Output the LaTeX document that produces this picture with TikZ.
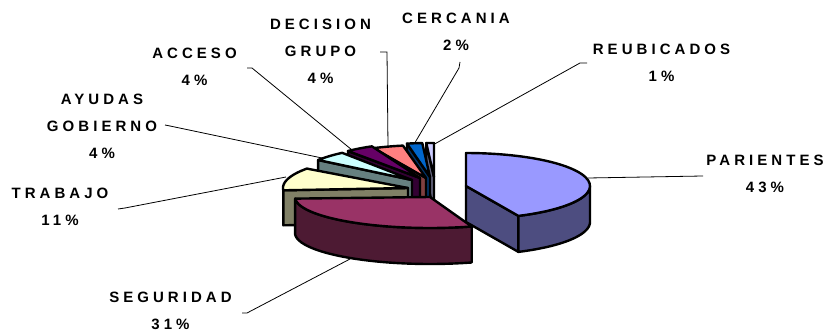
\documentclass[tikz,border=0pt]{standalone}
\usepackage{fontspec}
\setmainfont{Liberation Sans}
\newfontfamily\lblfont{Liberation Sans}[LetterSpace=27]
\definecolor{parT}{HTML}{9999FF}\definecolor{parS}{HTML}{4D4D80}
\definecolor{segT}{HTML}{993366}\definecolor{segS}{HTML}{4D1A33}
\definecolor{traT}{HTML}{FFFFCC}\definecolor{traS}{HTML}{808066}
\definecolor{ayuT}{HTML}{CCFFFF}\definecolor{ayuS}{HTML}{668080}
\definecolor{accT}{HTML}{660066}\definecolor{accS}{HTML}{330033}
\definecolor{decT}{HTML}{FF8080}\definecolor{decS}{HTML}{804040}
\definecolor{cerT}{HTML}{0066CC}\definecolor{cerS}{HTML}{003366}
\definecolor{reuT}{HTML}{CCCCFF}\definecolor{reuS}{HTML}{666680}
\tikzset{
  piece/.style={draw=black, line width=2.4pt, line join=round},
  leader/.style={draw=black, line width=0.8pt},
  lbl/.style={font=\lblfont\bfseries\fontsize{15}{27}\selectfont, align=center, inner sep=0pt, text=black}
}
% cx cy A B t1 t2 colour
\newcommand{\topface}[7]{\filldraw[piece, fill=#7] (#1,#2) -- plot[domain=#5:#6, samples=30, smooth] ({#1+#3*cos(\x)},{#2-#4*sin(\x)}) -- cycle;}
% cx cy A B t h colour
\newcommand{\radface}[7]{\filldraw[piece, fill=#7] (#1,#2) -- ({#1+#3*cos(#5)},{#2-#4*sin(#5)}) -- ++(0,#6) -- ({#1},{#2+#6}) -- cycle;}
% cx cy A B t1 t2 h colour
\newcommand{\rimface}[8]{\filldraw[piece, fill=#8] plot[domain=#5:#6, samples=30, smooth] ({#1+#3*cos(\x)},{#2-#4*sin(\x)}) -- plot[domain=#6:#5, samples=30, smooth] ({#1+#3*cos(\x)},{#2+#7-#4*sin(\x)}) -- cycle;}
\begin{document}
\begin{tikzpicture}[x=1pt,y=-1pt]
\useasboundingbox (0,0) rectangle (825,331);
% labels
\node[lbl] (decL) at (320.5,51) {DECISION\\GRUPO\\4\%};
\node[lbl] (cerL) at (456,32) {CERCANIA\\2\%};
\node[lbl] (reuL) at (661.5,62.5) {REUBICADOS\\1\%};
\node[lbl] (parL) at (765,174.3) {PARIENTES\\43\%};
\node[lbl] (accL) at (194.5,66.5) {ACCESO\\4\%};
\node[lbl] (ayuL) at (102,126) {AYUDAS\\GOBIERNO\\4\%};
\node[lbl] (traL) at (60,206.5) {TRABAJO\\11\%};
\node[lbl] (segL) at (170.5,310.5) {SEGURIDAD\\31\%};
% leader points
\coordinate (decA) at (380,52); \coordinate (decB) at (387,52); \coordinate (decC) at (388,146);
\coordinate (cerA) at (460,62); \coordinate (cerB) at (459,68); \coordinate (cerC) at (413,146);
\coordinate (reuA) at (587,63); \coordinate (reuB) at (580,63); \coordinate (reuC) at (431,146);
\coordinate (parA) at (703,176); \coordinate (parC) at (588,178);
\coordinate (accA) at (247,68); \coordinate (accB) at (252,68); \coordinate (accC) at (352,150);
\coordinate (ayuA) at (165,125); \coordinate (ayuB) at (170,126); \coordinate (ayuC) at (322,158);
\coordinate (traA) at (118,209); \coordinate (traB) at (125,208); \coordinate (traC) at (286,177);
\coordinate (segA) at (242,313); \coordinate (segB) at (247,313); \coordinate (segC) at (350,259);
\draw[leader] (decA) -- (decB) -- (decC);
\draw[leader] (cerA) -- (cerB) -- (cerC);
\draw[leader] (reuA) -- (reuB) -- (reuC);
\draw[leader] (parA) -- (parC);
\draw[leader] (accA) -- (accB) -- (accC);
\draw[leader] (ayuA) -- (ayuB) -- (ayuC);
\draw[leader] (traA) -- (traB) -- (traC);
\draw[leader] (segA) -- (segB) -- (segC);
% REUBICADOS
\radface{434}{177}{123}{34}{93.6}{35}{reuS}
\topface{434}{177}{123}{34}{90}{93.6}{reuT}
% CERCANIA
\radface{430}{177}{123}{34}{100.8}{35}{cerS}
\topface{430}{177}{123}{34}{93.6}{100.8}{cerT}
% DECISION GRUPO
\radface{426}{178}{123}{33}{115.2}{35}{decS}
\topface{426}{178}{123}{33}{100.8}{115.2}{decT}
% ACCESO
\radface{420}{178}{113}{35}{129.6}{35}{accS}
\topface{420}{178}{113}{35}{115.2}{129.6}{accT}
% AYUDAS GOBIERNO
\radface{412}{180}{116}{34}{144}{35}{ayuS}
\topface{412}{180}{116}{34}{127}{144}{ayuT}
% TRABAJO
\radface{408}{188}{125}{33}{184}{35}{traS}
\topface{408}{188}{125}{33}{144}{184}{traT}
% SEGURIDAD
\rimface{430}{197}{135}{31}{-177}{-72}{36}{segS}
\topface{430}{197}{135}{31}{-177}{-72}{segT}
% PARIENTES
\radface{466}{186}{124}{33}{-65}{36}{parS}
\rimface{466}{186}{124}{33}{-65}{0}{36}{parS}
\topface{466}{186}{124}{33}{-65}{90}{parT}
\end{tikzpicture}
\end{document}
